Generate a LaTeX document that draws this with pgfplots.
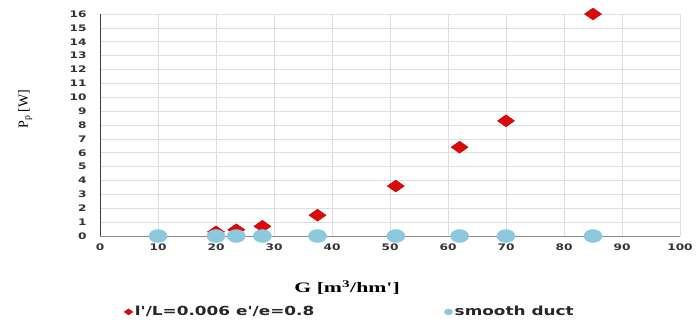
\documentclass[border=0pt]{standalone}
\usepackage{pgfplots}
\pgfplotsset{compat=1.18}
\usepackage{fontspec}
\setmainfont{Liberation Serif}
\newfontfamily\tickfont[FakeStretch=1.35]{DejaVu Sans}
\newfontfamily\legfont[FakeStretch=1.35]{DejaVu Sans}
\newfontfamily\labfont[FakeStretch=1.5]{Liberation Serif}
\definecolor{ductred}{RGB}{222,10,10}
\definecolor{ductblue}{RGB}{140,200,222}
\definecolor{gridgray}{RGB}{222,222,222}
\begin{document}
\begin{tikzpicture}
\begin{axis}[
  scale only axis,
  width=580pt, height=222pt,
  xmin=0, xmax=100, ymin=0, ymax=16,
  xtick={0,10,...,100}, ytick={0,1,...,16},
  axis x line=bottom, axis y line=left,
  x axis line style={-, draw=black!45, line width=0.8pt},
  y axis line style={-, draw=black!75, line width=0.8pt},
  major tick length=0pt,
  grid=major,
  major grid style={draw=gridgray, line width=0.6pt},
  ticklabel style={font=\tickfont\bfseries\fontsize{9}{10}\selectfont, text=black!80},
  /pgf/number format/assume math mode=true,
  yticklabel style={xshift=-10pt},
  xticklabel style={yshift=-4pt},
  xlabel={\labfont\bfseries G [m\textsuperscript{3}/hm']},
  xlabel style={font=\fontsize{14.5}{16}\selectfont, at={(axis description cs:0.426,-0.232)}, anchor=center},
  ylabel={P\textsubscript{p}\,[W]},
  ylabel style={font=\fontsize{14}{16}\selectfont, at={(axis description cs:-0.129,0.572)}, anchor=center},
  legend columns=2,
  legend style={draw=none, fill=none, at={(axis description cs:0.431,-0.342)}, anchor=center,
    font=\legfont\bfseries\fontsize{12.5}{14}\selectfont, text=black!85,
    /tikz/every even column/.append style={column sep=128pt}},
  legend cell align=left,
  legend image post style={mark size=3pt},
  clip=false,
]
\addplot[only marks, mark=diamond*, mark size=6pt,
  mark options={xscale=1.9, fill=ductred, draw=ductred!80!black, line width=0.4pt}]
  coordinates {(20,0.3) (23.5,0.45) (28,0.7) (37.5,1.5) (51,3.6) (62,6.4) (70,8.3) (85,16)};
\addlegendentry{l'/L=0.006 e'/e=0.8}
\addplot[only marks, mark=*, mark size=6.5pt,
  mark options={xscale=1.4, fill=ductblue, draw=ductblue}]
  coordinates {(10,0) (20,0) (23.5,0) (28,0) (37.5,0) (51,0) (62,0) (70,0) (85,0)};
\addlegendentry{smooth duct}
\coordinate (origin) at (rel axis cs:0,0);
\end{axis}
\pgfresetboundingbox
\path (origin) ++(-100pt,-86pt) rectangle ++(699pt,322pt);
\end{tikzpicture}
\end{document}
